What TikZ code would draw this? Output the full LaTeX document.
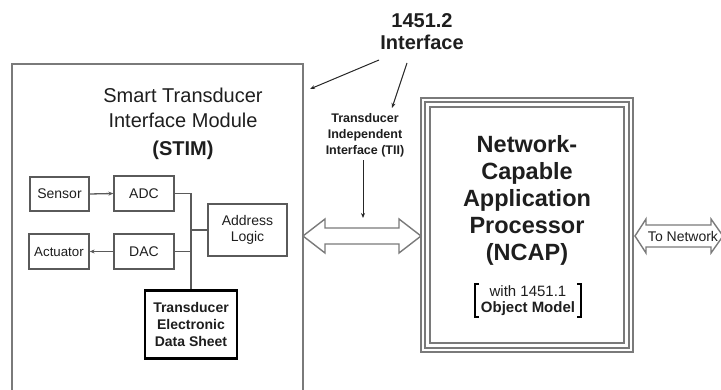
\documentclass[tikz,border=0pt]{standalone}
\usepackage{fontspec}
\setmainfont{Liberation Sans}
\usetikzlibrary{arrows.meta,calc}
\definecolor{linegray}{HTML}{5A5A5A}
\definecolor{framegray}{HTML}{7A7A7A}
\definecolor{inkdark}{HTML}{1E1E1E}
\newcommand{\fs}[2]{\fontsize{#1}{#2}\selectfont}
\begin{document}
\begin{tikzpicture}[x=1pt,y=-1pt,
  every node/.style={text=inkdark},
  smallbox/.style={draw=linegray,line width=1.3pt,minimum width=60pt,minimum height=35pt,inner sep=0pt,font=\fs{14}{16}},
  tedsbox/.style={draw=black,line width=2.4pt,minimum width=92pt,minimum height=68pt,inner sep=0pt,align=center,font=\bfseries\fs{14}{17}},
  wire/.style={draw=linegray,line width=1.3pt},
  pointer/.style={draw=black!85,line width=1pt,-{Stealth[length=5pt,width=4pt]}},
  bigarrow/.style={draw=framegray,line width=1.4pt,fill=white,line join=miter},
  frame/.style={draw=framegray,line width=1.7pt}]
\useasboundingbox (0,0) rectangle (721,390);

% STIM enclosure (open at the bottom edge)
\coordinate (stimNW) at (12,64);
\coordinate (stimNE) at (303,64);
\begin{scope}
\clip (0,0) rectangle (721,390);
\draw[draw=framegray,line width=1.8pt] (12,395) -- (stimNW) -- (stimNE) -- (303,395);
\end{scope}
\node[align=center,font=\fs{20}{25}] (stimtitle) at (183,124)
  {Smart Transducer\\Interface Module\\[2.5pt]\textbf{(STIM)}};

% STIM internal blocks
\node[smallbox,minimum width=59pt,minimum height=34pt] (sensor) at (59.5,194) {Sensor};
\node[smallbox] (adc) at (144,193.5) {ADC};
\node[smallbox,font=\fs{13.3}{16}] (actuator) at (59,251.5) {Actuator};
\node[smallbox] (dac) at (144,251.5) {DAC};
\node[smallbox,minimum width=79pt,minimum height=52pt,align=center,font=\fs{14}{15.5}] (addr) at (247.5,230) {Address\\Logic};
\node[tedsbox] (teds) at (191,324.5) {Transducer\\Electronic\\Data Sheet};

% internal bus and signal paths
\draw[wire] (adc.east) -| (teds.north);
\draw[wire] (dac.east) -- (dac.east -| teds.north);
\draw[wire] (addr.west) -- (addr.west -| teds.north);
\draw[wire,-{Stealth[length=5pt,width=4pt]}] (sensor.east) -- (adc.west);
\draw[wire,-{Stealth[length=5pt,width=4pt]}] (dac.west) -- (actuator.east);

% 1451.2 interface labels
\node[align=center,font=\bfseries\fs{20}{22}] (iface) at (422,32) {1451.2\\Interface};
\node[align=center,font=\bfseries\fs{12.5}{16}] (tii) at (365,135) {Transducer\\Independent\\Interface (TII)};
\coordinate (ifaceA) at (379,60);
\coordinate (ifaceB) at (407,63);
\coordinate (stimedge) at (310,89);
\coordinate (tiitop) at (392,108);
\draw[pointer] (ifaceA) -- (stimedge);
\draw[pointer] (ifaceB) -- (tiitop);

% TII double arrow between STIM and NCAP
\coordinate (tiiL) at (303,236);
\coordinate (tiiR) at (421,236);
\draw[bigarrow] (tiiL) -- ++(22,-17) -- ++(0,9) -- ($(tiiR)+(-22,-8)$) -- ++(0,-9) -- (tiiR)
  -- ++(-22,17) -- ++(0,-9) -- ($(tiiL)+(22,8)$) -- ++(0,9) -- cycle;
\coordinate (tiiaim) at (363,218);
\draw[pointer] (tii.south -| tiiaim) -- (tiiaim);

% NCAP triple frame
\node[frame,minimum width=212pt,minimum height=254pt,inner sep=0pt] (ncap) at (527,225) {};
\draw[frame] ($(ncap.north west)+(5,5)$) rectangle ($(ncap.south east)+(-5,-5)$);
\draw[frame] ($(ncap.north west)+(10,10)$) rectangle ($(ncap.south east)+(-10,-10)$);
\node[align=center,font=\bfseries\fs{23.5}{27}] (ncaptext) at (527,200.5)
  {Network-\\Capable\\Application\\Processor\\(NCAP)};
\node[align=center,font=\fs{15}{16},inner xsep=5.5pt,inner ysep=1.5pt] (objmodel) at (528,300.5)
  {with 1451.1\\\textbf{Object Model}};
\draw[draw=black,line width=2.2pt]
  ($(objmodel.north west)+(4,0)$) -- (objmodel.north west) -- (objmodel.south west) -- ++(4,0);
\draw[draw=black,line width=2.2pt]
  ($(objmodel.north east)+(-4,0)$) -- (objmodel.north east) -- (objmodel.south east) -- ++(-4,0);

% network link leaving the frame
\begin{scope}
\clip (0,0) rectangle (721,390);
\coordinate (netL) at (635,236);
\coordinate (netR) at (723,236);
\draw[bigarrow] (netL) -- ++(11,-17) -- ++(0,6) -- ($(netR)+(-12,-11)$) -- ++(0,-6) -- (netR)
  -- ++(-12,17) -- ++(0,-6) -- ($(netL)+(11,11)$) -- ++(0,6) -- cycle;
\end{scope}
\node[font=\fs{14}{16},inner sep=0pt] (tonet) at (683,236.5) {To Network};
\end{tikzpicture}
\end{document}
